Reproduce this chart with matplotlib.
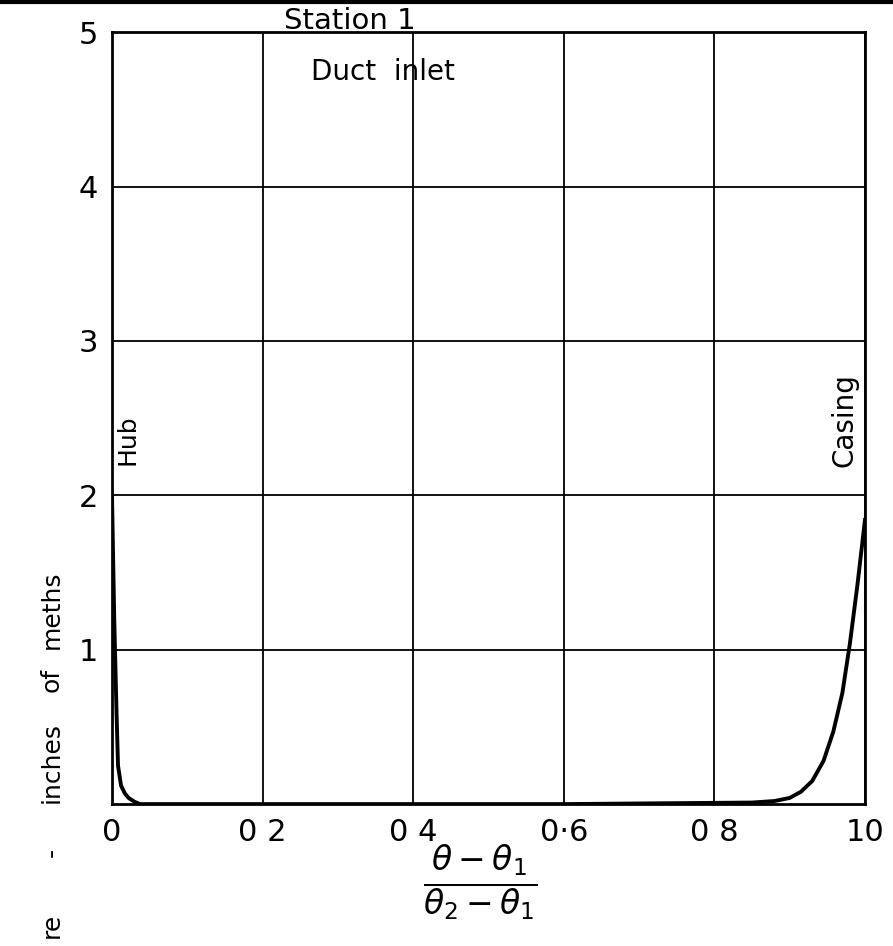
import matplotlib.pyplot as plt
import matplotlib.lines as mlines

# hub side of the profile
hub_x = [0.0, 0.003, 0.006, 0.008, 0.012, 0.017, 0.022, 0.03, 0.037, 0.05]
hub_y = [2.0, 1.2, 0.6, 0.25, 0.12, 0.07, 0.04, 0.015, 0.0, 0.0]

# core + casing side
core_x = [0.05, 0.3, 0.6, 0.85, 0.88, 0.9, 0.915, 0.93, 0.945, 0.958, 0.97, 0.98, 0.99, 1.0]
core_y = [0.0, 0.0, 0.0, 0.01, 0.02, 0.04, 0.08, 0.15, 0.28, 0.47, 0.72, 1.04, 1.42, 1.84]

xticks = [0, 0.2, 0.4, 0.6, 0.8, 1.0]
xtick_labels = ["0", "0 2", "0 4", "0·6", "0 8", "10"]
yticks = [1, 2, 3, 4, 5]
ytick_labels = ["1", "2", "3", "4", "5"]

# clipped y label, word by word (centre pixel rows from the scan)
ylabel_words = ["meths", "of", "inches", "-", "re"]
ylabel_rows = [610, 680, 762, 852, 925]

fig = plt.figure(figsize=(8.93, 9.46), dpi=100)
ax = fig.add_axes([0.1254, 0.150, 0.8432, 0.816])

ax.plot(hub_x + core_x, hub_y + core_y, color="black", lw=2.8)

ax.set_xlim(0, 1.0)
ax.set_ylim(0, 5)
ax.set_xticks(xticks)
ax.set_xticklabels(xtick_labels, fontsize=22)
ax.set_yticks(yticks)
ax.set_yticklabels(ytick_labels, fontsize=22)
ax.tick_params(length=0, pad=10)
ax.grid(True, color="black", lw=1.3)
for s in ax.spines.values():
    s.set_linewidth(2)
    s.set_color("black")

ax.text(0.316, 5.02, "Station 1", fontsize=21, ha="center", va="baseline")
ax.text(0.36, 4.74, "Duct  inlet", fontsize=20, ha="center", va="center")
ax.text(0.02, 2.36, "Hub", fontsize=18, rotation=90, ha="center", va="center")
ax.text(0.973, 2.49, "Casing", fontsize=20, rotation=90, ha="center", va="center")

fig.text(0.538, 0.066, r"$\frac{\theta - \theta_1}{\theta_2 - \theta_1}$",
         fontsize=34, ha="center", va="center")
for w, r in zip(ylabel_words, ylabel_rows):
    fig.text(0.058, 1 - r / 946, w, fontsize=18, rotation=90,
             ha="center", va="center")

# scan border at the top
fig.add_artist(mlines.Line2D([0, 1], [0.998, 0.998], color="black", lw=3,
                             transform=fig.transFigure))

fig.savefig("out.png", dpi=100)
